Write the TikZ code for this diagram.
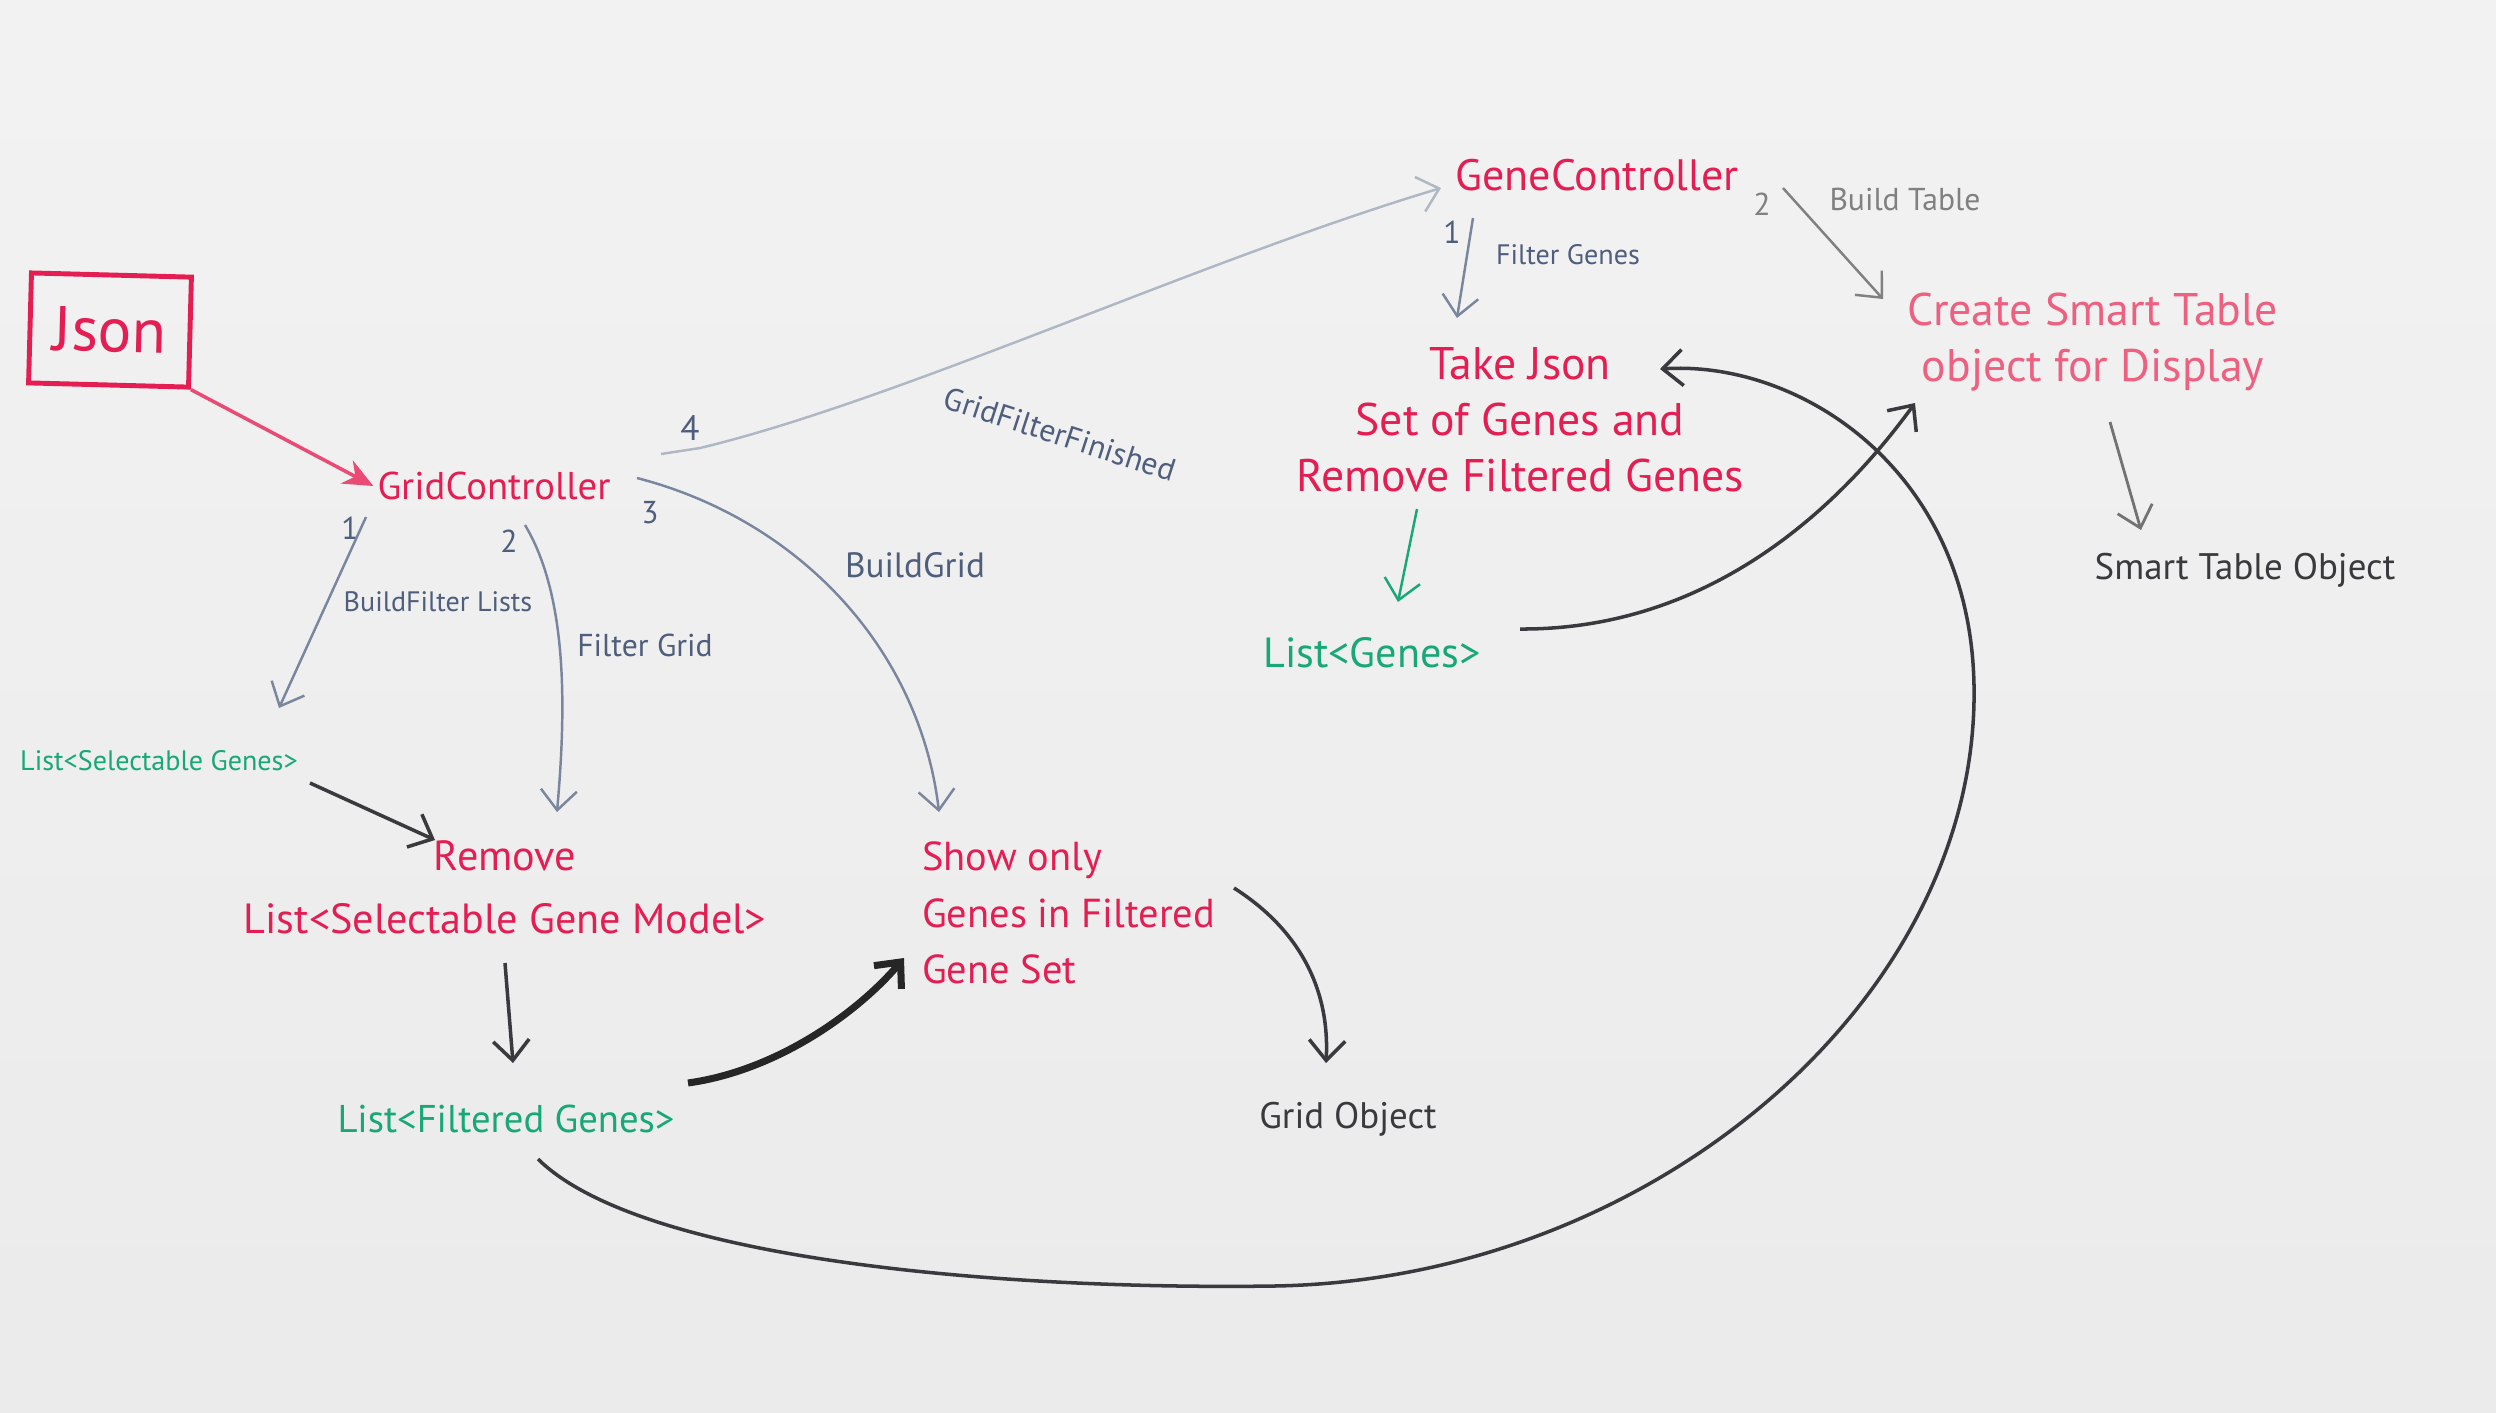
\documentclass[tikz,border=0pt]{standalone}
\usepackage{fontspec}
\setmainfont{PT Sans}
\usepackage{xcolor}
\usetikzlibrary{calc,arrows.meta}
\definecolor{boardred}{RGB}{228,30,82}
\definecolor{boardpink}{RGB}{238,96,128}
\definecolor{boardgreen}{RGB}{24,168,118}
\definecolor{boardblue}{RGB}{78,94,124}
\definecolor{boardgray}{RGB}{58,58,62}

\begin{document}
\begin{tikzpicture}[x=0.1mm,y=-0.1mm,
  redtxt/.style={text=boardred,font=\fontsize{13}{16}\selectfont,align=center,inner sep=1pt},
  greentxt/.style={text=boardgreen,font=\fontsize{11}{13}\selectfont,inner sep=1pt},
  blacktxt/.style={text=boardgray,font=\fontsize{10.5}{13}\selectfont,inner sep=1pt},
  lbl/.style={text=boardblue,font=\fontsize{9}{11}\selectfont,inner sep=1pt},
  tip/.style={-{Straight Barb[length=2mm,width=3.6mm]}},
  bluewire/.style={draw=boardblue!75,line width=0.7pt,tip},
  blackwire/.style={draw=boardgray,line width=1pt,tip}]
\useasboundingbox (0,0) rectangle (2496,1412);
\shade[top color=gray!10,middle color=white,bottom color=gray!16] (0,0) rectangle (2496,1412);

\node[draw=boardred,line width=1.4pt,text=boardred,font=\fontsize{18}{20}\selectfont,
  minimum width=16mm,minimum height=11mm,rotate=-1.5] (json) at (110,330) {Json};
\node[redtxt,font=\fontsize{11}{13}\selectfont] (gridc) at (494,486) {GridController};
\node[redtxt,font=\fontsize{12.5}{15}\selectfont] (genec) at (1597,175) {GeneController};
\node[redtxt] (take) at (1520,420) {Take Json\\Set of Genes and\\Remove Filtered Genes};
\node[redtxt,text=boardpink] (create) at (2093,342) {Create Smart Table\\object for Display};
\node[blacktxt] (smart) at (2245,570) {Smart Table Object};
\node[greentxt,font=\fontsize{12}{14}\selectfont] (listg) at (1372,653) {List<Genes>};
\node[greentxt,font=\fontsize{8}{10}\selectfont] (listsel) at (159,761) {List<Selectable Genes>};
\node[redtxt,font=\fontsize{12}{18}\selectfont] (remove) at (505,887) {Remove\\List<Selectable Gene Model>};
\node[redtxt,font=\fontsize{11.5}{16}\selectfont,align=left,anchor=west] (show) at (918,913) {Show only\\Genes in Filtered\\Gene Set};
\node[greentxt] (listf) at (506,1119) {List<Filtered Genes>};
\node[blacktxt] (grido) at (1348,1119) {Grid Object};

\node[lbl] (n1a) at (350,528) {1};
\node[lbl,font=\fontsize{8}{10}\selectfont] (l1a) at (438,602) {BuildFilter Lists};
\node[lbl] (n2a) at (509,541) {2};
\node[lbl] (l2a) at (645,645) {Filter Grid};
\node[lbl] (n3a) at (650,513) {3};
\node[lbl,font=\fontsize{10}{12}\selectfont] (l3a) at (915,565) {BuildGrid};
\node[lbl,font=\fontsize{10}{12}\selectfont] (n4a) at (690,428) {4};
\node[lbl,rotate=-18] (l4a) at (1060,434) {GridFilterFinished};
\node[lbl] (n1b) at (1452,232) {1};
\node[lbl,font=\fontsize{8}{10}\selectfont] (l1b) at (1568,255) {Filter Genes};
\node[lbl,text=gray] (n2b) at (1762,204) {2};
\node[lbl,text=gray] (l2b) at (1905,199) {Build Table};

\draw[draw=boardred!80,line width=1pt,-{Stealth[length=3mm,width=2.6mm]}] (json.south east) -- (gridc.west);
\draw[bluewire] ($(gridc)+(-128,31)$) -- ($(listsel)+(120,-53)$);
\draw[bluewire] ($(gridc)+(31,39)$) .. controls (570,600) and (565,720) .. ($(remove)+(52,-75)$);
\draw[bluewire] ($(gridc)+(143,-8)$) .. controls (800,520) and (920,650) .. ($(show.west)+(21,-101)$);
\draw[bluewire,draw=boardblue!45] ($(n4a)+(-29,26)$) -- ($(n4a)+(10,20)$) .. controls (900,400) and (1200,260) .. ($(genec)+(-156,13)$);
\draw[bluewire] ($(genec)+(-124,43)$) -- ($(take)+(-63,-102)$);
\draw[bluewire,draw=gray] ($(genec)+(186,13)$) -- ($(create)+(-210,-43)$);
\draw[bluewire,draw=boardgreen] ($(take)+(-103,89)$) -- ($(listg)+(26,-51)$);
\draw[blackwire] ($(listg)+(148,-24)$) .. controls (1700,630) and (1830,520) .. ($(create)+(-178,61)$);
\draw[blackwire,line width=0.8pt,draw=gray!90!black] ($(create)+(17,80)$) -- ($(smart)+(-104,-40)$);
\draw[blackwire] ($(listsel)+(151,22)$) -- ($(remove)+(-70,-47)$);
\draw[blackwire] ($(remove)+(0,76)$) -- ($(listf)+(7,-56)$);
\draw[blackwire,line width=2pt,draw=black!85] ($(listf)+(182,-36)$) .. controls (780,1070) and (860,1010) .. ($(show.west)+(-14,45)$);
\draw[blackwire] ($(show.west)+(316,-25)$) .. controls (1300,930) and (1330,990) .. ($(grido)+(-22,-56)$);
\draw[blackwire] ($(listf)+(32,40)$) .. controls (640,1260) and (1000,1290) .. (1274,1286)
  .. controls (1650,1280) and (1980,1000) .. (1974,685)
  .. controls (1970,470) and (1800,360) .. ($(take)+(140,-51)$);
\end{tikzpicture}
\end{document}
